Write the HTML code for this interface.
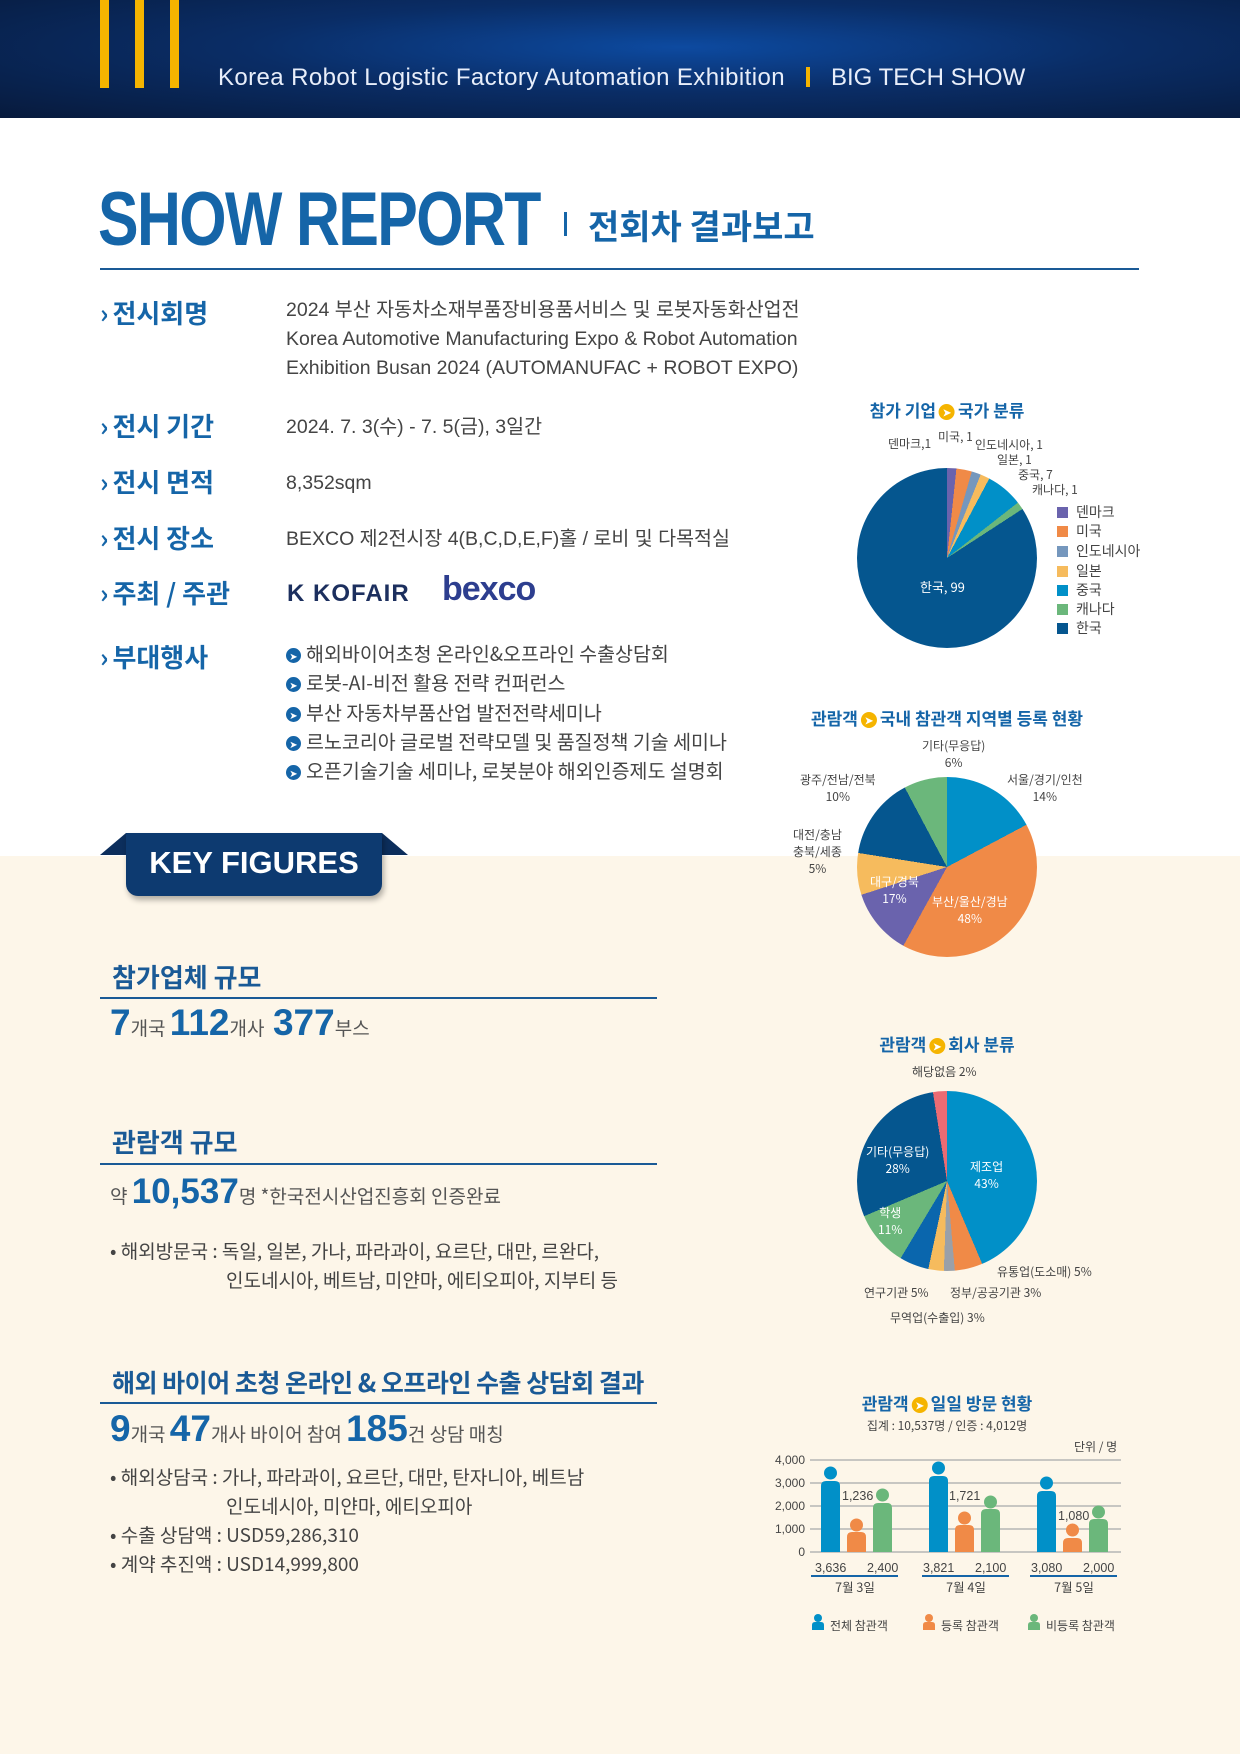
<!DOCTYPE html>
<html><head><meta charset="utf-8">
<style>
*{margin:0;padding:0;box-sizing:border-box}
body{width:1240px;height:1754px;position:relative;background:#fff;font-family:"Liberation Sans","Noto Sans CJK KR",sans-serif;color:#333;overflow:hidden}
.a{position:absolute;white-space:nowrap}
.hdr{left:0;top:0;width:1240px;height:118px;background:radial-gradient(ellipse at 55% 40%,#0d4aa0 0%,#0a2d66 45%,#071a3c 100%)}
.yb{background:#f5b400;width:9px;height:88px;top:0}
.lbl{left:100px;font-size:26px;font-weight:700;color:#1565a8;font-family:"Noto Sans CJK KR",sans-serif}
.lbl:before{content:"›";margin-right:4px}
.txt{left:286px;font-size:19.5px;color:#444;font-family:"Liberation Sans","Noto Sans CJK KR",sans-serif;line-height:29px}
.bul{left:286px;font-size:19.5px;color:#444;font-family:"Noto Sans CJK KR",sans-serif}
.bul i{display:inline-block;width:15px;height:15px;border-radius:50%;background:#1565a8;color:#fff;font-size:10px;font-style:normal;text-align:center;line-height:15px;margin-right:5px;vertical-align:1px}
.h2{left:112px;font-size:26px;font-weight:700;color:#1a5a96;font-family:"Noto Sans CJK KR",sans-serif}
.rule{left:100px;width:557px;height:2px;background:#1a5a96}
.big{font-size:37px;font-weight:700;color:#1565a8}
.sm{font-size:19px;color:#555;font-family:"Noto Sans CJK KR",sans-serif}
.ct{font-size:17px;font-weight:700;color:#1565a8;font-family:"Noto Sans CJK KR",sans-serif;transform:translateX(-50%)}
.ct i{display:inline-block;width:16px;height:16px;border-radius:50%;background:#f5b400;color:#fff;font-size:10px;font-style:normal;text-align:center;line-height:16px;vertical-align:1px;margin:0 3px}
.pie{position:absolute;width:180px;height:180px;border-radius:50%}
.pl{font-size:12px;color:#444;font-family:"Noto Sans CJK KR",sans-serif;text-align:center;line-height:17px}
.w{color:#fff}
.leg{left:1057px;width:11px;height:11px}
.lt{left:1076px;font-size:14px;color:#444;font-family:"Noto Sans CJK KR",sans-serif}
.ind{display:inline-block;padding-left:116px}
</style></head><body>
<div class="a hdr"></div>
<div class="a yb" style="left:100px"></div><div class="a yb" style="left:135px"></div><div class="a yb" style="left:170px"></div>
<div class="a" style="left:218px;top:64px;font-size:24px;color:#e8eefa;font-weight:300;letter-spacing:0.4px">Korea Robot Logistic Factory Automation Exhibition</div>
<div class="a" style="left:806px;top:67px;width:4px;height:20px;background:#f5b400"></div>
<div class="a" style="left:831px;top:64px;font-size:24px;color:#e8eefa">BIG TECH SHOW</div>

<div class="a" style="left:98px;top:176px;font-size:76px;font-weight:700;color:#1565a8;letter-spacing:-2px;transform:scaleX(0.8);transform-origin:left">SHOW REPORT</div>
<div class="a" style="left:564px;top:212px;width:3px;height:24px;background:#1565a8"></div>
<div class="a" style="left:588px;top:200px;font-size:34px;font-weight:700;color:#1565a8;font-family:'Noto Sans CJK KR',sans-serif;line-height:50px">전회차 결과보고</div>
<div class="a" style="left:100px;top:268px;width:1039px;height:2px;background:#1a5a96"></div>

<div class="a lbl" style="top:294px">전시회명</div>
<div class="a txt" style="top:296px">2024 부산 자동차소재부품장비용품서비스 및 로봇자동화산업전<br>Korea Automotive Manufacturing Expo &amp; Robot Automation<br>Exhibition Busan 2024 (AUTOMANUFAC + ROBOT EXPO)</div>
<div class="a lbl" style="top:407px">전시 기간</div>
<div class="a txt" style="top:413px">2024. 7. 3(수) - 7. 5(금), 3일간</div>
<div class="a lbl" style="top:463px">전시 면적</div>
<div class="a txt" style="top:469px">8,352sqm</div>
<div class="a lbl" style="top:519px">전시 장소</div>
<div class="a txt" style="top:525px">BEXCO 제2전시장 4(B,C,D,E,F)홀 / 로비 및 다목적실</div>
<div class="a lbl" style="top:574px">주최 / 주관</div>
<div class="a" style="left:287px;top:580px;font-size:24px;font-weight:700;color:#1c2f5e;letter-spacing:1px">K KOFAIR</div>
<div class="a" style="left:442px;top:570px;font-size:34px;font-weight:700;color:#2d3e8f;letter-spacing:-1px">bexco</div>
<div class="a lbl" style="top:638px">부대행사</div>
<div class="a bul" style="top:638px"><i>➤</i>해외바이어초청 온라인&amp;오프라인 수출상담회</div>
<div class="a bul" style="top:667px"><i>➤</i>로봇-AI-비전 활용 전략 컨퍼런스</div>
<div class="a bul" style="top:697px"><i>➤</i>부산 자동차부품산업 발전전략세미나</div>
<div class="a bul" style="top:726px"><i>➤</i>르노코리아 글로벌 전략모델 및 품질정책 기술 세미나</div>
<div class="a bul" style="top:755px"><i>➤</i>오픈기술기술 세미나, 로봇분야 해외인증제도 설명회</div>

<div class="a" style="left:0;top:856px;width:1240px;height:898px;background:#fdf6e9"></div>
<div class="a" style="left:100px;top:833px;width:0;height:0;border-left:26px solid transparent;border-bottom:22px solid #0c2e5c"></div>
<div class="a" style="left:382px;top:833px;width:0;height:0;border-right:26px solid transparent;border-bottom:22px solid #0c2e5c"></div>
<div class="a" style="left:126px;top:833px;width:256px;height:63px;background:#0d3a70;border-radius:0 0 12px 12px;box-shadow:2px 4px 6px rgba(0,0,0,.3);color:#fff;font-size:31px;font-weight:700;text-align:center;line-height:60px">KEY FIGURES</div>

<div class="a h2" style="top:958px">참가업체 규모</div>
<div class="a rule" style="top:997px"></div>
<div class="a" style="left:110px;top:1002px"><span class="big">7</span><span class="sm">개국 </span><span class="big">112</span><span class="sm">개사 &nbsp;</span><span class="big">377</span><span class="sm">부스</span></div>

<div class="a h2" style="top:1123px">관람객 규모</div>
<div class="a rule" style="top:1163px"></div>
<div class="a" style="left:110px;top:1172px"><span class="sm">약 </span><span class="big" style="font-size:35px">10,537</span><span class="sm">명 *한국전시산업진흥회 인증완료</span></div>
<div class="a sm" style="left:110px;top:1236px;line-height:29px;color:#444">• 해외방문국 : 독일, 일본, 가나, 파라과이, 요르단, 대만, 르완다,<br><span class="ind">인도네시아, 베트남, 미얀마, 에티오피아, 지부티 등</span></div>

<div class="a h2" style="top:1364px;font-size:25px;letter-spacing:-0.5px">해외 바이어 초청 온라인 &amp; 오프라인 수출 상담회 결과</div>
<div class="a rule" style="top:1402px"></div>
<div class="a" style="left:110px;top:1408px"><span class="big">9</span><span class="sm">개국 </span><span class="big">47</span><span class="sm">개사 바이어 참여 </span><span class="big">185</span><span class="sm">건 상담 매칭</span></div>
<div class="a sm" style="left:110px;top:1462px;line-height:29px;color:#444">• 해외상담국 : 가나, 파라과이, 요르단, 대만, 탄자니아, 베트남<br><span class="ind">인도네시아, 미얀마, 에티오피아</span><br>• 수출 상담액 : USD59,286,310<br>• 계약 추진액 : USD14,999,800</div>

<!-- Pie 1 -->
<div class="a ct" style="left:947px;top:397px">참가 기업<i>➤</i>국가 분류</div>
<div class="pie" style="left:857px;top:468px;background:conic-gradient(#6a63ad 0 6deg,#f08a47 6deg 16deg,#7597bd 16deg 22deg,#f6bb5d 22deg 28deg,#0190c8 28deg 52deg,#6bb77b 52deg 57deg,#05568f 57deg 360deg)"></div>
<div class="a pl w" style="left:920px;top:578px;font-size:13px">한국, 99</div>
<div class="a pl" style="left:888px;top:435px">덴마크,1</div>
<div class="a pl" style="left:938px;top:428px">미국, 1</div>
<div class="a pl" style="left:975px;top:436px">인도네시아, 1</div>
<div class="a pl" style="left:997px;top:451px">일본, 1</div>
<div class="a pl" style="left:1018px;top:466px">중국, 7</div>
<div class="a pl" style="left:1032px;top:481px">캐나다, 1</div>
<div class="a leg" style="top:507px;background:#6a63ad"></div><div class="a lt" style="top:502px">덴마크</div>
<div class="a leg" style="top:526px;background:#f08a47"></div><div class="a lt" style="top:521px">미국</div>
<div class="a leg" style="top:546px;background:#7597bd"></div><div class="a lt" style="top:541px">인도네시아</div>
<div class="a leg" style="top:566px;background:#f6bb5d"></div><div class="a lt" style="top:561px">일본</div>
<div class="a leg" style="top:585px;background:#0190c8"></div><div class="a lt" style="top:580px">중국</div>
<div class="a leg" style="top:604px;background:#6bb77b"></div><div class="a lt" style="top:599px">캐나다</div>
<div class="a leg" style="top:623px;background:#05568f"></div><div class="a lt" style="top:618px">한국</div>

<!-- Pie 2 -->
<div class="a ct" style="left:947px;top:705px">관람객<i>➤</i>국내 참관객 지역별 등록 현황</div>
<div class="pie" style="left:857px;top:777px;background:conic-gradient(#0190c8 0 62deg,#f08a47 62deg 209deg,#6a63ad 209deg 252deg,#f6bb5d 252deg 279deg,#05568f 279deg 332deg,#6bb77b 332deg 360deg)"></div>
<div class="a pl" style="left:922px;top:737px">기타(무응답)<br>6%</div>
<div class="a pl" style="left:800px;top:771px">광주/전남/전북<br>10%</div>
<div class="a pl" style="left:1007px;top:771px">서울/경기/인천<br>14%</div>
<div class="a pl" style="left:793px;top:826px">대전/충남<br>충북/세종<br>5%</div>
<div class="a pl w" style="left:870px;top:873px">대구/경북<br>17%</div>
<div class="a pl w" style="left:932px;top:893px">부산/울산/경남<br>48%</div>

<!-- Pie 3 -->
<div class="a ct" style="left:947px;top:1031px">관람객<i>➤</i>회사 분류</div>
<div class="pie" style="left:857px;top:1091px;background:conic-gradient(#0190c8 0 157deg,#f08a47 157deg 175deg,#9aa0a8 175deg 182deg,#f6bb5d 182deg 192deg,#0a66ad 192deg 211deg,#6bb77b 211deg 247deg,#05568f 247deg 351deg,#ec6b73 351deg 360deg)"></div>
<div class="a pl" style="left:912px;top:1063px">해당없음 2%</div>
<div class="a pl w" style="left:970px;top:1158px">제조업<br>43%</div>
<div class="a pl w" style="left:866px;top:1143px">기타(무응답)<br>28%</div>
<div class="a pl w" style="left:878px;top:1204px">학생<br>11%</div>
<div class="a pl" style="left:997px;top:1263px">유통업(도소매) 5%</div>
<div class="a pl" style="left:950px;top:1284px">정부/공공기관 3%</div>
<div class="a pl" style="left:864px;top:1284px">연구기관 5%</div>
<div class="a pl" style="left:890px;top:1309px">무역업(수출입) 3%</div>

<!-- Bar chart -->
<div class="a ct" style="left:947px;top:1390px">관람객<i>➤</i>일일 방문 현황</div>
<div class="a pl" style="left:947px;top:1417px;transform:translateX(-50%)">집계 : 10,537명 / 인증 : 4,012명</div>
<div class="a pl" style="left:1074px;top:1438px">단위 / 명</div>
<svg class="a" style="left:0;top:0" width="1240" height="1754">
<g stroke="#b5b5b5" stroke-width="1.5">
<line x1="810" y1="1460" x2="1121" y2="1460"/><line x1="810" y1="1483" x2="1121" y2="1483"/><line x1="810" y1="1506" x2="1121" y2="1506"/><line x1="810" y1="1529" x2="1121" y2="1529"/><line x1="810" y1="1552" x2="1121" y2="1552"/>
</g>
<g font-family="Liberation Sans" font-size="12" fill="#444" text-anchor="end">
<text x="805" y="1464">4,000</text><text x="805" y="1487">3,000</text><text x="805" y="1510">2,000</text><text x="805" y="1533">1,000</text><text x="805" y="1556">0</text>
</g>
<g>
<path d="M821 1552V1486q0-5 5-5h9q5 0 5 5V1552z" fill="#0190c8"/><circle cx="830.5" cy="1473" r="6.5" fill="#0190c8"/>
<path d="M847 1552V1537q0-5 5-5h9q5 0 5 5V1552z" fill="#f08a47"/><circle cx="856.5" cy="1525" r="6.5" fill="#f08a47"/>
<path d="M873 1552V1508q0-5 5-5h9q5 0 5 5V1552z" fill="#6bb77b"/><circle cx="882.5" cy="1495" r="6.5" fill="#6bb77b"/>
<path d="M929 1552V1481q0-5 5-5h9q5 0 5 5V1552z" fill="#0190c8"/><circle cx="938.5" cy="1468" r="6.5" fill="#0190c8"/>
<path d="M955 1552V1530q0-5 5-5h9q5 0 5 5V1552z" fill="#f08a47"/><circle cx="964.5" cy="1518" r="6.5" fill="#f08a47"/>
<path d="M981 1552V1514q0-5 5-5h9q5 0 5 5V1552z" fill="#6bb77b"/><circle cx="990.5" cy="1502" r="6.5" fill="#6bb77b"/>
<path d="M1037 1552V1496q0-5 5-5h9q5 0 5 5V1552z" fill="#0190c8"/><circle cx="1046.5" cy="1483" r="6.5" fill="#0190c8"/>
<path d="M1063 1552V1543q0-5 5-5h9q5 0 5 5V1552z" fill="#f08a47"/><circle cx="1072.5" cy="1530" r="6.5" fill="#f08a47"/>
<path d="M1089 1552V1524q0-5 5-5h9q5 0 5 5V1552z" fill="#6bb77b"/><circle cx="1098.5" cy="1512" r="6.5" fill="#6bb77b"/>
</g>
<g font-family="Liberation Sans" font-size="12.5" fill="#444">
<text x="842" y="1500">1,236</text><text x="949" y="1500">1,721</text><text x="1058" y="1520">1,080</text>
<text x="815" y="1572">3,636</text><text x="867" y="1572">2,400</text>
<text x="923" y="1572">3,821</text><text x="975" y="1572">2,100</text>
<text x="1031" y="1572">3,080</text><text x="1083" y="1572">2,000</text>
</g>
<g stroke="#1565a8" stroke-width="2"><line x1="811" y1="1576" x2="898" y2="1576"/><line x1="922" y1="1576" x2="1009" y2="1576"/><line x1="1030" y1="1576" x2="1117" y2="1576"/></g>
<g font-family="Noto Sans CJK KR" font-size="12.5" fill="#444" text-anchor="middle">
<text x="855" y="1592">7월 3일</text><text x="966" y="1592">7월 4일</text><text x="1074" y="1592">7월 5일</text>
</g>
<g>
<circle cx="818" cy="1618" r="4" fill="#0190c8"/><path d="M812 1630v-5q0-3 3-3h6q3 0 3 3v5z" fill="#0190c8"/>
<circle cx="929" cy="1618" r="4" fill="#f08a47"/><path d="M923 1630v-5q0-3 3-3h6q3 0 3 3v5z" fill="#f08a47"/>
<circle cx="1034" cy="1618" r="4" fill="#6bb77b"/><path d="M1028 1630v-5q0-3 3-3h6q3 0 3 3v5z" fill="#6bb77b"/>
</g>
<g font-family="Noto Sans CJK KR" font-size="12" fill="#444">
<text x="830" y="1630">전체 참관객</text><text x="941" y="1630">등록 참관객</text><text x="1046" y="1630">비등록 참관객</text>
</g>
</svg>
</body></html>
